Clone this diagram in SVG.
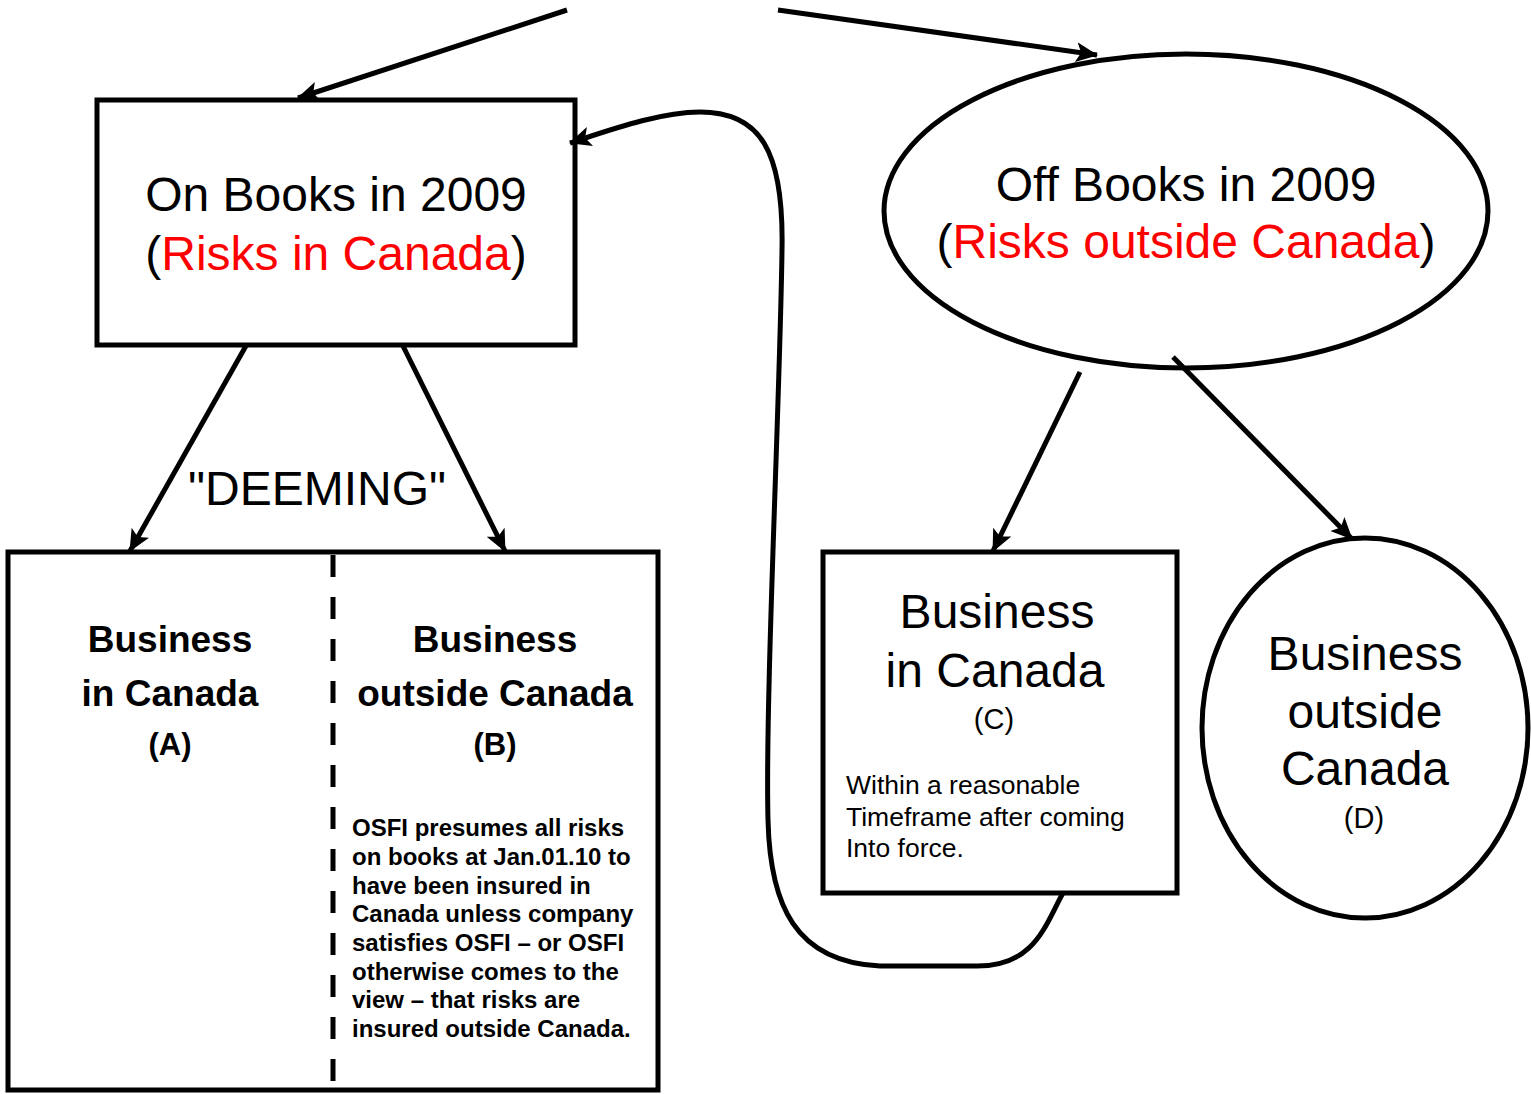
<svg xmlns="http://www.w3.org/2000/svg" width="1531" height="1094" viewBox="0 0 1531 1094">
<style>
.shape{fill:#fff;stroke:#000;stroke-width:5}
.conn{fill:none;stroke:#000;stroke-width:5}
text{font-family:"Liberation Sans",Arial,sans-serif;fill:#000}
.big{font-size:48px;text-anchor:middle}
.mid{font-size:29px;text-anchor:middle}
.bold{font-weight:bold;font-size:37px;text-anchor:middle}
.boldsm{font-weight:bold;font-size:31px;text-anchor:middle}
.para{font-weight:bold;font-size:24px}
.small{font-size:26.5px}
.red{fill:#ff0000}
</style>
<defs>
<marker id="ah" markerUnits="userSpaceOnUse" markerWidth="24" markerHeight="20" refX="21" refY="10" orient="auto">
<path d="M0,0 L22,10 L0,20 L5,10 Z" fill="#000"/>
</marker>
</defs>
<rect width="1531" height="1094" fill="#fff"/>
<g id="onbooks">
<rect class="shape" x="97" y="100" width="478" height="245"/>
<text class="big" x="336" y="211">On Books in 2009</text>
<text class="big" x="336" y="270">(<tspan class="red">Risks in Canada</tspan>)</text>
</g>
<g id="offbooks">
<ellipse class="shape" cx="1186" cy="211" rx="302" ry="157"/>
<text class="big" x="1186" y="201">Off Books in 2009</text>
<text class="big" x="1186" y="258">(<tspan class="red">Risks outside Canada</tspan>)</text>
</g>
<g id="deemingbox">
<rect class="shape" x="8" y="552" width="650" height="538"/>
<line x1="333" y1="555" x2="333" y2="1085" stroke="#000" stroke-width="5" stroke-dasharray="22,20"/>
<text class="bold" x="170" y="652">Business</text>
<text class="bold" x="170" y="706">in Canada</text>
<text class="boldsm" x="170" y="755">(A)</text>
<text class="bold" x="495" y="652">Business</text>
<text class="bold" x="495" y="706">outside Canada</text>
<text class="boldsm" x="495" y="755">(B)</text>
<text class="para" x="352" y="836">OSFI presumes all risks</text>
<text class="para" x="352" y="865">on books at Jan.01.10 to</text>
<text class="para" x="352" y="894">have been insured in</text>
<text class="para" x="352" y="922">Canada unless company</text>
<text class="para" x="352" y="951">satisfies OSFI – or OSFI</text>
<text class="para" x="352" y="980">otherwise comes to the</text>
<text class="para" x="352" y="1008">view – that risks are</text>
<text class="para" x="352" y="1037">insured outside Canada.</text>
</g>
<g id="bizC">
<rect class="shape" x="823" y="552" width="354" height="341"/>
<text class="big" x="997" y="628">Business</text>
<text class="big" x="995" y="687">in Canada</text>
<text class="mid" x="994" y="729">(C)</text>
<text class="small" x="846" y="794">Within a reasonable</text>
<text class="small" x="846" y="826">Timeframe after coming</text>
<text class="small" x="846" y="857">Into force.</text>
</g>
<g id="bizD">
<ellipse class="shape" cx="1365" cy="728" rx="163" ry="190"/>
<text class="big" x="1365" y="670">Business</text>
<text class="big" x="1365" y="728">outside</text>
<text class="big" x="1365" y="785">Canada</text>
<text class="mid" x="1364" y="828">(D)</text>
</g>
<text class="big" x="317" y="505">"DEEMING"</text>
<g id="connectors">
<line class="conn" x1="567" y1="10" x2="298" y2="98" marker-end="url(#ah)"/>
<line class="conn" x1="778" y1="10" x2="1097" y2="55" marker-end="url(#ah)"/>
<line class="conn" x1="247" y1="344" x2="130" y2="551" marker-end="url(#ah)"/>
<line class="conn" x1="402" y1="344" x2="505" y2="551" marker-end="url(#ah)"/>
<line class="conn" x1="1080" y1="372" x2="993" y2="551" marker-end="url(#ah)"/>
<line class="conn" x1="1173" y1="357" x2="1352" y2="539" marker-end="url(#ah)"/>
<path class="conn" d="M1063,893 C1045,925 1035,967 975,966 L880,966 C795,962 770,905 768,820 C765,700 780,400 782,250 C784,150 760,112 700,112 C660,112 610,130 570,143" marker-end="url(#ah)"/>
</g>
</svg>
